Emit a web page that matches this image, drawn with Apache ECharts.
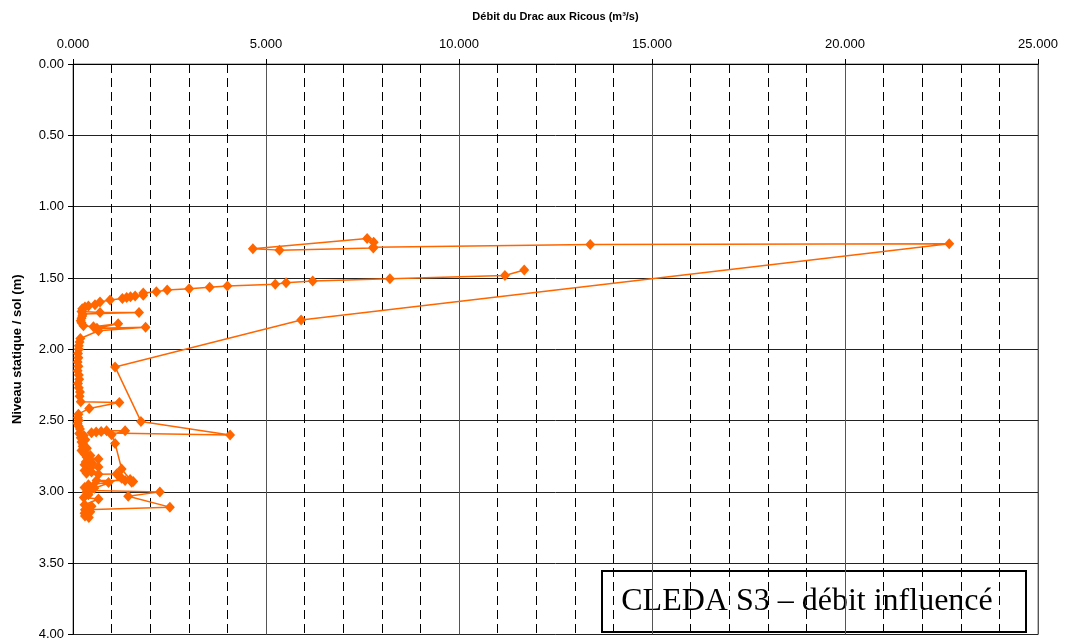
<!DOCTYPE html>
<html>
<head>
<meta charset="utf-8">
<script src="https://cdn.jsdelivr.net/npm/echarts@6/dist/echarts.min.js"></script>
<style>
  html, body { margin: 0; padding: 0; background: #fff; }
  #chart { width: 1066px; height: 641px; }
</style>
</head>
<body>
<div id="chart"></div>
<script>
// Débit du Drac (m³/s) and water level below ground (m), in time order
const debit = [
  11.69, 11.19, 8.21, 6.21, 5.52, 5.24, 4.00, 3.54, 3.01, 2.44,
  2.16, 1.82, 1.82, 1.61, 1.49, 1.39, 1.28, 0.96, 0.70, 0.57,
  0.40, 0.31, 0.24, 0.22, 0.70, 1.71, 0.25, 0.24, 0.22, 0.20,
  0.22, 0.27, 0.53, 1.17, 0.62, 1.88, 0.66, 0.19, 0.17, 0.15,
  0.15, 0.13, 0.14, 0.12, 0.14, 0.12, 0.15, 0.16, 0.13, 0.15,
  0.18, 0.17, 0.20, 1.20, 0.42, 0.14, 0.13, 0.15, 0.12, 0.15,
  0.18, 0.16, 0.28, 0.20, 0.32, 0.22, 0.26, 0.25, 0.36, 0.22,
  0.30, 0.30, 0.45, 0.35, 0.66, 0.40, 0.33, 0.50, 0.30, 0.40,
  0.66, 0.30, 0.48, 0.35, 0.66, 1.13, 1.52, 1.35, 0.61, 0.92,
  0.40, 0.52, 0.30, 0.45, 2.25, 1.43, 2.51, 0.31, 0.30, 0.45,
  0.31, 0.41, 0.33, 0.36, 0.48, 0.30, 0.66, 0.28, 0.40, 0.35,
  0.55, 1.26, 1.56, 1.48, 1.26, 1.09, 1.00, 1.35, 0.87, 0.73,
  0.60, 0.48, 4.07, 1.76, 1.09, 5.91, 22.70, 13.40, 7.78, 7.79,
  7.62, 4.66, 5.35, 7.78
];
const niveau = [
  1.445, 1.483, 1.506, 1.522, 1.534, 1.545, 1.557, 1.566, 1.576, 1.585,
  1.597, 1.606, 1.622, 1.627, 1.632, 1.637, 1.645, 1.655, 1.669, 1.688,
  1.696, 1.703, 1.716, 1.735, 1.743, 1.743, 1.752, 1.767, 1.782, 1.800,
  1.815, 1.835, 1.843, 1.822, 1.852, 1.845, 1.870, 1.925, 1.950, 1.975,
  2.000, 2.030, 2.060, 2.090, 2.120, 2.150, 2.180, 2.210, 2.240, 2.270,
  2.300, 2.330, 2.368, 2.373, 2.415, 2.455, 2.480, 2.500, 2.520, 2.540,
  2.560, 2.590, 2.605, 2.620, 2.635, 2.650, 2.665, 2.680, 2.695, 2.710,
  2.725, 2.735, 2.745, 2.755, 2.770, 2.780, 2.790, 2.800, 2.810, 2.830,
  2.825, 2.850, 2.860, 2.870, 2.876, 2.874, 2.932, 2.920, 2.920, 2.935,
  2.950, 2.960, 2.970, 2.990, 3.000, 3.030, 3.107, 3.125, 3.150, 3.140,
  3.170, 3.180, 3.160, 3.120, 3.100, 3.090, 3.050, 3.040, 3.020, 3.000,
  2.975, 2.904, 2.928, 2.913, 2.840, 2.660, 2.600, 2.572, 2.571, 2.576,
  2.580, 2.585, 2.602, 2.506, 2.124, 1.795, 1.260, 1.266, 1.285, 1.249,
  1.224, 1.296, 1.305, 1.290
];

const xTitle = 'Débit du Drac aux Ricous (m³/s)';
const yTitle = 'Niveau statique / sol (m)';
const boxLabel = 'CLEDA S3 – débit influencé';

const points = debit.map((d, i) => [d, niveau[i]]);

const chart = echarts.init(document.getElementById('chart'), null, { renderer: 'canvas' });

const sans = '"Liberation Sans", Arial, sans-serif';

chart.setOption({
  animation: false,
  backgroundColor: '#fff',
  grid: {
    left: 73, right: 28, top: 64, bottom: 5,
    show: true, borderColor: '#777', borderWidth: 1, backgroundColor: 'transparent'
  },
  xAxis: {
    type: 'value',
    position: 'top',
    min: 0, max: 25, interval: 5,
    name: xTitle,
    nameLocation: 'middle',
    nameGap: 42,
    nameTextStyle: { fontFamily: sans, fontWeight: 'bold', fontSize: 11, color: '#000' },
    axisLine: { show: true, lineStyle: { color: '#000', width: 1 } },
    axisTick: { show: true, inside: false, length: 5, lineStyle: { color: '#000' } },
    axisLabel: {
      margin: 13, fontFamily: sans, fontSize: 13, color: '#000',
      formatter: v => v.toFixed(3)
    },
    splitLine: { show: true, lineStyle: { color: '#555', width: 1 } },
    minorTick: { show: false, splitNumber: 5 },
    minorSplitLine: { show: true, lineStyle: { color: '#000', width: 1, type: [9, 5] } }
  },
  yAxis: {
    type: 'value',
    inverse: true,
    min: 0, max: 4, interval: 0.5,
    name: yTitle,
    nameLocation: 'middle',
    nameGap: 49,
    nameRotate: 90,
    nameTextStyle: { fontFamily: sans, fontWeight: 'bold', fontSize: 13, color: '#000' },
    axisLine: { show: true, lineStyle: { color: '#000', width: 1 } },
    axisTick: { show: true, inside: false, length: 5, lineStyle: { color: '#000' } },
    axisLabel: {
      margin: 9, fontFamily: sans, fontSize: 13, color: '#000',
      formatter: v => v.toFixed(2)
    },
    splitLine: { show: true, lineStyle: { color: '#222', width: 1 } }
  },
  series: [{
    type: 'line',
    data: points,
    showAllSymbol: true,
    symbol: 'diamond',
    symbolSize: [10, 11],
    itemStyle: { color: '#ff6600' },
    lineStyle: { color: '#ff6600', width: 1.5 },
    z: 3
  }],
  graphic: [{
    type: 'group',
    left: 601, top: 570,
    z: 100,
    children: [
      {
        type: 'rect',
        shape: { x: 0, y: 0, width: 424, height: 61 },
        style: { fill: '#fff', stroke: '#000', lineWidth: 2 }
      },
      {
        type: 'text',
        x: 205, y: 31,
        style: {
          text: boxLabel,
          fontFamily: '"Liberation Serif", "Times New Roman", serif',
          fontSize: 32,
          fill: '#000',
          align: 'center',
          verticalAlign: 'middle'
        }
      }
    ]
  }]
});
</script>
</body>
</html>
